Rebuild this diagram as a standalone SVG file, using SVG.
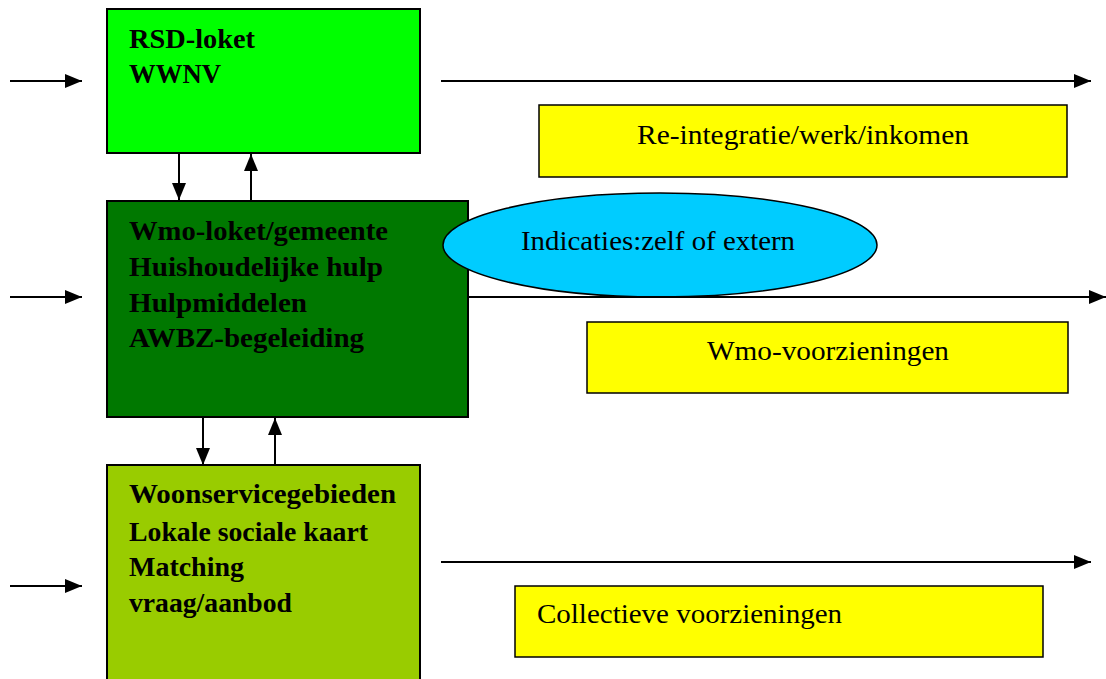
<svg xmlns="http://www.w3.org/2000/svg" width="1106" height="679" viewBox="0 0 1106 679">
<defs>
<marker id="ah" markerWidth="8.5" markerHeight="7" refX="8.5" refY="3.5" orient="auto" markerUnits="strokeWidth"><path d="M0,0 L8.5,3.5 L0,7 Z" fill="#000"/></marker>
<style>
.box{stroke:#000;stroke-width:2}
.bt{font-family:"Liberation Serif",serif;font-weight:bold;font-size:27px;fill:#000}
.yb{fill:#FFFF00;stroke:#000;stroke-width:1.5}
.yt{font-family:"Liberation Serif",serif;font-size:28px;fill:#000}
.ln{stroke:#000;stroke-width:2;fill:none;marker-end:url(#ah)}
</style>
</defs>
<rect width="1106" height="679" fill="#fff"/>
<g id="rsd">
<rect class="box" x="107" y="9" width="313" height="144" fill="#00FF00"/>
<text class="bt" x="129" y="48" textLength="126" lengthAdjust="spacingAndGlyphs">RSD-loket</text>
<text class="bt" x="129" y="83" textLength="92" lengthAdjust="spacingAndGlyphs">WWNV</text>
</g>
<g id="wmo">
<rect class="box" x="107" y="201" width="361" height="216" fill="#007800"/>
<text class="bt" x="129" y="240" textLength="259" lengthAdjust="spacingAndGlyphs">Wmo-loket/gemeente</text>
<text class="bt" x="129" y="276" textLength="254" lengthAdjust="spacingAndGlyphs">Huishoudelijke hulp</text>
<text class="bt" x="129" y="312" textLength="178" lengthAdjust="spacingAndGlyphs">Hulpmiddelen</text>
<text class="bt" x="129" y="347" textLength="235" lengthAdjust="spacingAndGlyphs">AWBZ-begeleiding</text>
</g>
<g id="woon">
<rect class="box" x="107" y="465" width="313" height="220" fill="#99CC00"/>
<text class="bt" x="129" y="503" textLength="267" lengthAdjust="spacingAndGlyphs">Woonservicegebieden</text>
<text class="bt" x="129" y="541" textLength="239" lengthAdjust="spacingAndGlyphs">Lokale sociale kaart</text>
<text class="bt" x="129" y="576" textLength="115" lengthAdjust="spacingAndGlyphs">Matching</text>
<text class="bt" x="129" y="612" textLength="163" lengthAdjust="spacingAndGlyphs">vraag/aanbod</text>
</g>
<g id="indicaties">
<ellipse cx="660" cy="245" rx="217" ry="52" fill="#00CCFF" stroke="#000" stroke-width="1.5"/>
<text class="yt" x="521" y="250" textLength="274" lengthAdjust="spacingAndGlyphs">Indicaties:zelf of extern</text>
</g>
<g id="reintegratie">
<rect class="yb" x="539" y="105" width="528" height="72"/>
<text class="yt" x="637" y="144" textLength="332" lengthAdjust="spacingAndGlyphs">Re-integratie/werk/inkomen</text>
</g>
<g id="wmovoorz">
<rect class="yb" x="587" y="322" width="481" height="71"/>
<text class="yt" x="707" y="360" textLength="242" lengthAdjust="spacingAndGlyphs">Wmo-voorzieningen</text>
</g>
<g id="collectief">
<rect class="yb" x="515" y="586" width="528" height="71"/>
<text class="yt" x="537" y="623" textLength="305" lengthAdjust="spacingAndGlyphs">Collectieve voorzieningen</text>
</g>
<g id="connectors">
<line class="ln" x1="10" y1="81" x2="82" y2="81"/>
<line class="ln" x1="10" y1="297" x2="82" y2="297"/>
<line class="ln" x1="10" y1="586" x2="82" y2="586"/>
<line class="ln" x1="179" y1="153" x2="179" y2="200"/>
<line class="ln" x1="251" y1="201" x2="251" y2="154"/>
<line class="ln" x1="203" y1="417" x2="203" y2="465"/>
<line class="ln" x1="275" y1="465" x2="275" y2="418"/>
<line class="ln" x1="441" y1="81" x2="1091" y2="81"/>
<line class="ln" x1="468" y1="297" x2="1106" y2="297"/>
<line class="ln" x1="441" y1="562" x2="1091" y2="562"/>
</g>
</svg>
